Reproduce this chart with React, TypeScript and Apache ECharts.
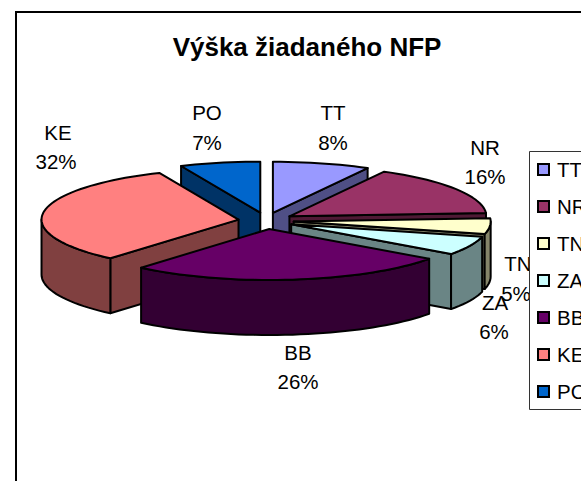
import React, { useEffect, useRef } from "react";
import * as echarts from "echarts";

const titleText = "Výška žiadaného NFP";
const categories = ["TT", "NR", "TN", "ZA", "BB", "KE", "PO"];
const values = [8, 16, 5, 6, 26.4, 32.2, 6.6];
const topColors = ["#9999FF", "#993366", "#FFFFCC", "#CCFFFF", "#660066", "#FF8080", "#0066CC"];
const sideColors = ["#4F4F85", "#4F1A35", "#85856A", "#6A8585", "#330033", "#804040", "#003366"];
// back-to-front painting order of the exploded slices
const paintOrder = [6, 0, 1, 2, 3, 5, 4];

const FONT = "Liberation Sans";
const CX = 266;
const CY = 220.8;
const RX = 197;
const RY = 51;
const DEPTH = 55;
const EXPLODE = 0.141; // share of the radius each slice is pulled out by
const labelAnchors = [
  [333, 112, 333, 142],
  [485, 147, 485, 176],
  [518, 263, 516, 293],
  [495, 302, 494, 331],
  [298, 352, 298, 381],
  [58, 132, 56, 161],
  [207, 112, 207, 142],
];

const total = values.reduce((a, b) => a + b, 0);
const cumulative = values.map((_, i) => values.slice(0, i).reduce((a, b) => a + b, 0) / total);
const shares = values.map((v) => v / total);

function renderSlice(index: number) {
  return (_params: any, api: any) => {
    const a0 = api.value(0) * Math.PI * 2;
    const a1 = api.value(1) * Math.PI * 2;
    const mid = (a0 + a1) / 2;
    const ax = CX + EXPLODE * RX * Math.sin(mid);
    const ay = CY - EXPLODE * 1.15 * RY * Math.cos(mid);
    const pt = (t: number): [number, number] => [ax + RX * Math.sin(t), ay - RY * Math.cos(t)];
    const arc = (from: number, to: number) => {
      const n = Math.max(2, Math.ceil((to - from) / 0.04));
      const out: [number, number][] = [];
      for (let k = 0; k <= n; k++) out.push(pt(from + ((to - from) * k) / n));
      return out;
    };
    const down = (p: [number, number]): [number, number] => [p[0], p[1] + DEPTH];
    const base = { stroke: "#000", lineWidth: 2, lineJoin: "round" };
    const side = { ...base, fill: sideColors[index] };
    const face = (points: [number, number][], style: any) => ({
      type: "polygon",
      shape: { points },
      style,
    });
    const children: any[] = [];
    const apex: [number, number] = [ax, ay];
    // only the cut faces turned towards the viewer are painted
    if (Math.sin(a0) < 0) {
      const e = pt(a0);
      children.push(face([apex, e, down(e), down(apex)], side));
    }
    if (Math.sin(a1) > 0) {
      const e = pt(a1);
      children.push(face([apex, e, down(e), down(apex)], side));
    }
    const from = Math.max(a0, Math.PI / 2);
    const to = Math.min(a1, (Math.PI * 3) / 2);
    if (to > from) {
      const rim = arc(from, to);
      children.push(face([...rim, ...rim.map(down).reverse()], side));
    }
    children.push(face([apex, ...arc(a0, a1)], { ...base, fill: topColors[index] }));
    return { type: "group", children };
  };
}

function renderLabels(params: any) {
  const i = params.dataIndex;
  const [x1, y1, x2, y2] = labelAnchors[i];
  const common = {
    fill: "#000",
    font: `20.5px "${FONT}"`,
    textAlign: "center",
    textVerticalAlign: "middle",
  };
  return {
    type: "group",
    children: [
      { type: "text", style: { ...common, x: x1, y: y1, text: categories[i] } },
      { type: "text", style: { ...common, x: x2, y: y2, text: `${Math.round(shares[i] * 100)}%` } },
    ],
  };
}

export default function App() {
  const ref = useRef<HTMLDivElement>(null);
  useEffect(() => {
    const chart = echarts.init(ref.current!, null, { renderer: "svg" });
    chart.setOption({
      animation: false,
      backgroundColor: "#fff",
      title: {
        text: titleText,
        left: 302,
        textAlign: "center",
        top: 29,
        textStyle: { fontFamily: FONT, fontWeight: "bold", fontSize: 26, color: "#000" },
      },
      graphic: [
        {
          type: "rect",
          z: 0,
          shape: { x: 16, y: 12, width: 620, height: 520 },
          style: { fill: "#fff", stroke: "#000", lineWidth: 2 },
        },
        {
          type: "rect",
          z: 5,
          shape: { x: 529.5, y: 151.5, width: 100, height: 258 },
          style: { fill: "#fff", stroke: "#333", lineWidth: 1 },
        },
      ],
      legend: {
        orient: "vertical",
        left: 537,
        top: 159,
        z: 6,
        padding: 0,
        itemWidth: 11,
        itemHeight: 11,
        itemGap: 16,
        icon: "rect",
        data: categories,
        itemStyle: { borderColor: "#000", borderWidth: 2 },
        textStyle: { fontFamily: FONT, fontSize: 20.5, color: "#000", padding: [0, 0, 0, 3] },
      },
      series: [
        ...paintOrder.map((i) => ({
          type: "custom",
          name: categories[i],
          coordinateSystem: "none",
          z: 2,
          silent: true,
          itemStyle: { color: topColors[i] },
          data: [[cumulative[i], cumulative[i] + shares[i]]],
          renderItem: renderSlice(i),
        })),
        {
          type: "custom",
          name: "labels",
          coordinateSystem: "none",
          z: 3,
          silent: true,
          data: categories.map((_, i) => [i]),
          renderItem: renderLabels,
        },
      ],
    });
    return () => chart.dispose();
  }, []);
  return (
    <div
      ref={ref}
      style={{ position: "absolute", left: 0, top: 0, width: 581, height: 481 }}
    />
  );
}
